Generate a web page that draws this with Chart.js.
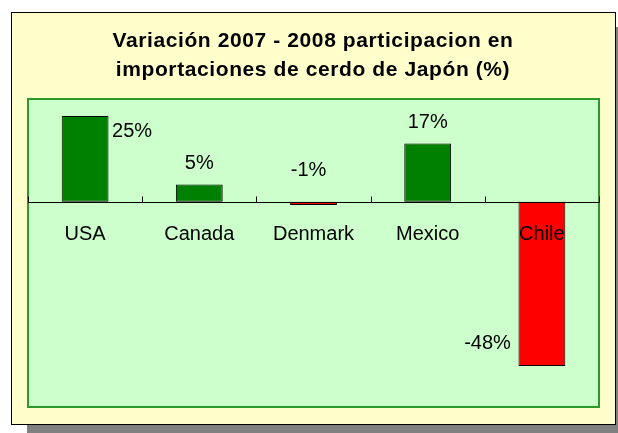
<!DOCTYPE html>
<html><head><meta charset="utf-8">
<script src="https://cdn.jsdelivr.net/npm/chart.js@4"></script>
<style>html,body{margin:0;padding:0;background:#fff}#wrap{width:618px;height:433px}</style>
</head><body><div id="wrap"><canvas id="c" width="618" height="433"></canvas></div>
<script>
const categories = ['USA', 'Canada', 'Denmark', 'Mexico', 'Chile'];
const values = [25, 5, -1, 17, -48];
const valueLabels = ['25%', '5%', '-1%', '17%', '-48%'];
const titleLines = ['Variación 2007 - 2008 participacion en', 'importaciones de cerdo de Japón (%)'];

const FONT = '"Liberation Sans", Arial, sans-serif';
// label placement relative to bar: [anchor, dx, dy(baseline), align]
const labelPlacement = [
  ['top', 27, 21, 'left'],
  ['top', 0, -16, 'center'],
  ['zero', -5, -27, 'center'],
  ['top', 0, -15, 'center'],
  ['bottom', -31, -17, 'right']
];

const deco = {
  id: 'deco',
  beforeDraw(chart) {
    const ctx = chart.ctx, a = chart.chartArea;
    ctx.save();
    ctx.fillStyle = '#fff'; ctx.fillRect(0, 0, 618, 433);
    // shadow
    ctx.fillStyle = '#808080';
    ctx.fillRect(27, 27, 591, 406);
    // outer box
    ctx.fillStyle = '#FFFFCC';
    ctx.fillRect(11, 12, 604, 412);
    ctx.strokeStyle = '#000'; ctx.lineWidth = 1;
    ctx.strokeRect(11.5, 12.5, 604, 412);
    // title
    ctx.fillStyle = '#000';
    ctx.font = 'bold 21px ' + FONT;
    try { ctx.letterSpacing = '0.6px'; } catch (e) {}
    ctx.textAlign = 'center'; ctx.textBaseline = 'middle';
    ctx.fillText(titleLines[0], 313, 41);
    ctx.fillText(titleLines[1], 313, 70);
    try { ctx.letterSpacing = '0px'; } catch (e) {}
    // plot area
    ctx.fillStyle = '#CCFFCC';
    ctx.fillRect(a.left, a.top, a.right - a.left, a.bottom - a.top);
    ctx.strokeStyle = '#2A9A2A'; ctx.lineWidth = 2;
    ctx.strokeRect(a.left, a.top, a.right - a.left, a.bottom - a.top);
    ctx.restore();
  },
  afterDatasetsDraw(chart) {
    const ctx = chart.ctx, a = chart.chartArea;
    const x = chart.scales.x, y = chart.scales.y;
    const y0 = Math.round(y.getPixelForValue(0)) + 0.5;
    ctx.save();
    ctx.strokeStyle = '#000'; ctx.lineWidth = 1;
    ctx.beginPath();
    ctx.moveTo(a.left, y0); ctx.lineTo(a.right, y0);
    const step = (a.right - a.left) / categories.length;
    for (let i = 0; i <= categories.length; i++) {
      const tx = Math.round(a.left + i * step) + 0.5;
      ctx.moveTo(tx, y0); ctx.lineTo(tx, y0 - 6);
    }
    ctx.stroke();
    ctx.fillStyle = '#000';
    ctx.font = '20px ' + FONT;
    ctx.textBaseline = 'alphabetic';
    ctx.textAlign = 'center';
    categories.forEach((c, i) => {
      ctx.fillText(c, x.getPixelForValue(i), y0 + 37);
    });
    const meta = chart.getDatasetMeta(0);
    meta.data.forEach((bar, i) => {
      const p = labelPlacement[i];
      let by;
      if (p[0] === 'top') by = Math.min(bar.y, bar.base);
      else if (p[0] === 'bottom') by = Math.max(bar.y, bar.base);
      else by = y0;
      ctx.textAlign = p[3];
      ctx.fillText(valueLabels[i], bar.x + p[1], by + p[2]);
    });
    ctx.restore();
  }
};

new Chart(document.getElementById('c'), {
  type: 'bar',
  data: {
    labels: categories,
    datasets: [{
      data: values,
      backgroundColor: values.map(v => v < 0 ? '#FF0000' : '#008000'),
      borderColor: '#000',
      borderWidth: 1,
      borderSkipped: false,
      categoryPercentage: 1,
      barPercentage: 0.41
    }]
  },
  options: {
    responsive: false,
    animation: false,
    devicePixelRatio: 1,
    layout: { padding: { left: 28, top: 99, right: 19, bottom: 26 } },
    plugins: { legend: { display: false }, tooltip: { enabled: false }, title: { display: false } },
    scales: {
      x: { display: false },
      y: { display: false, min: -60, max: 30 }
    }
  },
  plugins: [deco]
});
</script></body></html>
